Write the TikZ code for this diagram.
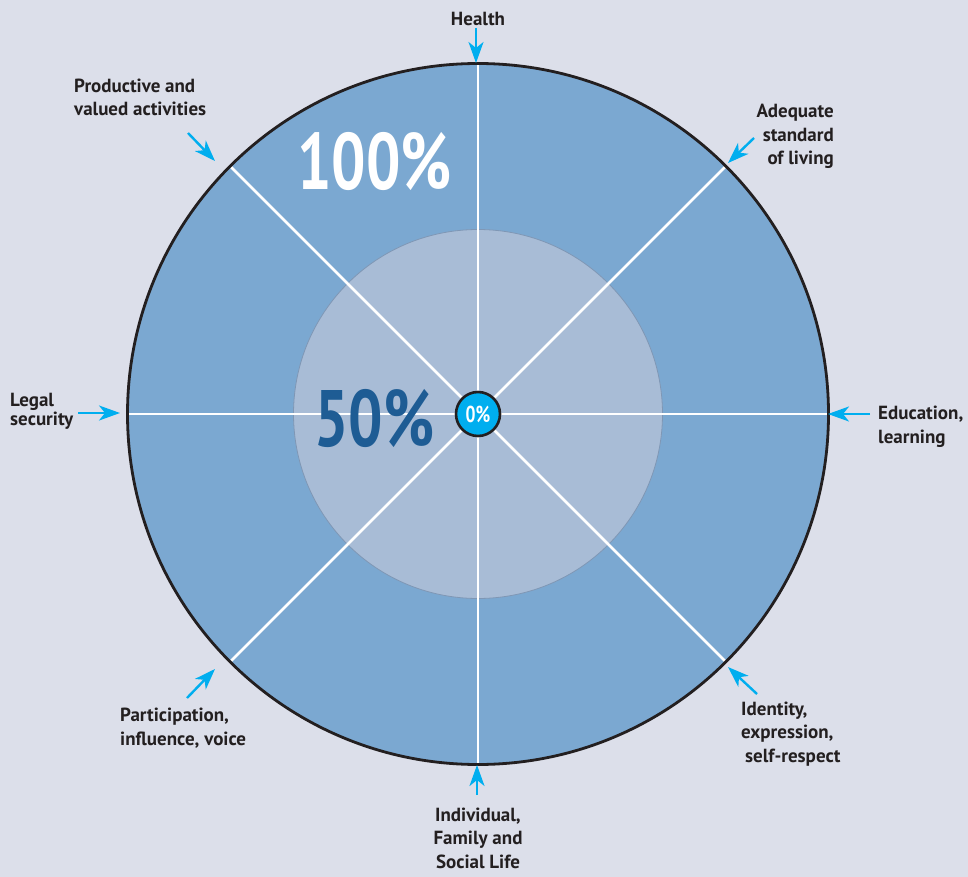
\documentclass[tikz,border=0pt]{standalone}
\usepackage{fontspec}
\setmainfont{PT Sans}
\newfontfamily\narrowfont[FakeStretch=0.76]{PT Sans}
\usepackage{xcolor}
\usepackage{tikz}
\usetikzlibrary{arrows.meta}
\definecolor{paper}{HTML}{DCDFEA}
\definecolor{ringblue}{HTML}{7BA8D1}
\definecolor{coreblue}{HTML}{A8BCD6}
\definecolor{coreedge}{HTML}{7F97B5}
\definecolor{pincyan}{HTML}{00AEEF}
\definecolor{darkblue}{HTML}{1E5C94}
\definecolor{ink}{HTML}{231F20}
\tikzstyle{lbl}=[inner sep=0pt,text=ink,font=\bfseries\fontsize{19}{23.5}\selectfont]
\tikzstyle{pin}=[pincyan,line width=2.4pt,-{Stealth[length=21pt,width=15pt,inset=6pt]}]
\tikzstyle{spoke}=[white,line width=2.8pt]
\tikzstyle{big}=[inner sep=0pt,font=\narrowfont\bfseries\fontsize{80}{80}\selectfont]

\begin{document}
\begin{tikzpicture}[x=1pt,y=-1pt]
	\fill[paper] (0,0) rectangle (968,877);
	\useasboundingbox (0,0) rectangle (968,877);
	% rings
	\node[circle,fill=ringblue,minimum size=701pt,inner sep=0pt] (ring) at (478,414) {};
	\node[circle,fill=coreblue,draw=coreedge,line width=0.8pt,minimum size=369pt,inner sep=0pt] (core) at (478,414) {};
	\draw[spoke] (ring.north) -- (ring.south);
	\draw[spoke] (ring.east) -- (ring.west);
	\draw[spoke] (ring.45) -- (ring.225);
	\draw[spoke] (ring.135) -- (ring.315);
	\draw[ink,line width=2.8pt] (ring.center) circle (350.5pt);
	\node[circle,fill=pincyan,draw=ink,line width=2.6pt,minimum size=44pt,inner sep=0pt,
		text=white,font=\narrowfont\bfseries\fontsize{23}{23}\selectfont] (zero) at (478,414) {0\%};
	\node[big,text=white,anchor=base west] (full) at (297,190) {100\%};
	\node[big,text=darkblue,anchor=base west] (half) at (314,446) {50\%};
	% labels
	\node[lbl,anchor=base] (health) at (478,26) {Health};
	\node[lbl,anchor=base west,align=left] (prod) at (74,116) {Productive and\\valued activities};
	\node[lbl,anchor=base east,align=right] (adeq) at (834,165) {Adequate\\standard\\of living};
	\node[lbl,anchor=base west,align=left,font=\bfseries\fontsize{19}{19}\selectfont] (legal) at (10,425) {Legal\\security};
	\node[lbl,anchor=base west,align=left] (edu) at (878,443) {Education,\\learning};
	\node[lbl,anchor=base west,align=left] (ident) at (741,762) {Identity,\\expression,\\\hspace{4pt}self-respect};
	\node[lbl,anchor=base west,align=left] (part) at (120,745) {Participation,\\influence, voice};
	\node[lbl,anchor=base,align=center] (indiv) at (478,868) {Individual,\\Family and\\Social Life};
	% pointers
	\coordinate (hA) at (476,28);  \coordinate (hB) at (476,63);
	\coordinate (pA) at (188,133); \coordinate (pB) at (215,161);
	\coordinate (aA) at (754,138); \coordinate (aB) at (728,163);
	\coordinate (lA) at (78,413);  \coordinate (lB) at (120,413);
	\coordinate (eA) at (870,414); \coordinate (eB) at (828,414);
	\coordinate (iA) at (757,694); \coordinate (iB) at (728,667);
	\coordinate (qA) at (187,698); \coordinate (qB) at (215,669);
	\coordinate (fA) at (477,795); \coordinate (fB) at (477,765);
	\draw[pin] (hA) -- (hB);
	\draw[pin] (pA) -- (pB);
	\draw[pin] (aA) -- (aB);
	\draw[pin] (lA) -- (lB);
	\draw[pin] (eA) -- (eB);
	\draw[pin] (iA) -- (iB);
	\draw[pin] (qA) -- (qB);
	\draw[pin] (fA) -- (fB);
\end{tikzpicture}
\end{document}
